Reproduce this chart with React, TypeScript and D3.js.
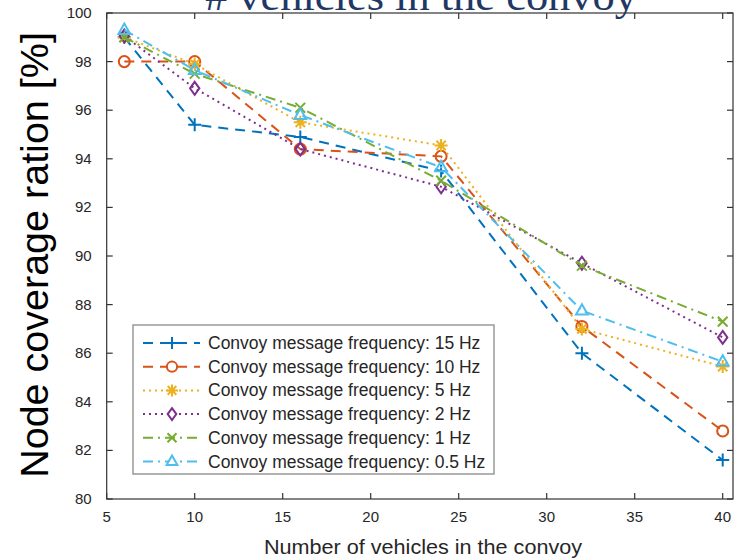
import React from "react";
import * as d3 from "d3";

const vehicles = [6, 10, 16, 24, 32, 40];
const freq15 = [99.0, 95.4, 94.9, 93.5, 86.0, 81.6];
const freq10 = [98.0, 98.0, 94.4, 94.1, 87.1, 82.8];
const freq5 = [99.0, 97.9, 95.5, 94.55, 87.0, 85.45];
const freq2 = [99.05, 96.9, 94.4, 92.85, 89.7, 86.65];
const freq1 = [99.0, 97.5, 96.1, 93.1, 89.6, 87.3];
const freq05 = [99.3, 97.65, 95.8, 93.65, 87.75, 85.65];
const seriesLabels = [
  "Convoy message frequency: 15 Hz",
  "Convoy message frequency: 10 Hz",
  "Convoy message frequency: 5 Hz",
  "Convoy message frequency: 2 Hz",
  "Convoy message frequency: 1 Hz",
  "Convoy message frequency: 0.5 Hz",
];
const xTicks = [5, 10, 15, 20, 25, 30, 35, 40];
const yTicks = [80, 82, 84, 86, 88, 90, 92, 94, 96, 98, 100];
const titleText = "# vehicles in the convoy";
const xLabel = "Number of vehicles in the convoy";
const yLabel = "Node coverage ration [%]";

const seriesValues = [freq15, freq10, freq5, freq2, freq1, freq05];
const colors = ["#0072BD", "#D95319", "#EDB120", "#7E2F8E", "#77AC30", "#4DBEEE"];
const dashes = ["10,7", "10,7", "2,4", "2,4", "10,5,2,5", "10,5,2,5"];
const markers = ["plus", "circle", "star", "diamond", "cross", "triangle"];

function markerPath(kind: string, s: number): string {
  const p = d3.path();
  if (kind === "plus") {
    p.moveTo(-s, 0); p.lineTo(s, 0); p.moveTo(0, -s); p.lineTo(0, s);
  } else if (kind === "circle") {
    p.moveTo(s * 0.85, 0); p.arc(0, 0, s * 0.85, 0, Math.PI * 2);
  } else if (kind === "star") {
    p.moveTo(-s, 0); p.lineTo(s, 0); p.moveTo(0, -s); p.lineTo(0, s);
    const k = s * 0.72;
    p.moveTo(-k, -k); p.lineTo(k, k); p.moveTo(-k, k); p.lineTo(k, -k);
  } else if (kind === "diamond") {
    p.moveTo(0, -s); p.lineTo(s * 0.72, 0); p.lineTo(0, s); p.lineTo(-s * 0.72, 0); p.closePath();
  } else if (kind === "cross") {
    const k = s * 0.75;
    p.moveTo(-k, -k); p.lineTo(k, k); p.moveTo(-k, k); p.lineTo(k, -k);
  } else {
    p.moveTo(0, -s); p.lineTo(s * 0.9, s * 0.6); p.lineTo(-s * 0.9, s * 0.6); p.closePath();
  }
  return p.toString();
}

export default function App() {
  const W = 734, H = 559;
  const left = 106.7, right = 733, top = 13, bottom = 499;
  const x = d3.scaleLinear().domain([5, 40 + (right - 722.7) / 17.6]).range([left, right]);
  const y = d3.scaleLinear().domain([80, 100]).range([bottom, top]);
  const line = d3.line<number>().x((_, i) => x(vehicles[i])).y((v) => y(v));
  const axisColor = "#333";
  const font = "Arial, 'Liberation Sans', sans-serif";

  const legX = 133, legY = 325, legW = 361, legH = 149;
  const rowY = (i: number) => legY + 18 + i * 23.7;

  return (
    <svg width={W} height={H} style={{ position: "absolute", left: 0, top: 0, background: "#fff" }}>
      <rect x={0} y={0} width={W} height={H} fill="#fff" />
      {/* title (cut at top, as in the reference) */}
      <text x={421} y={10} textAnchor="middle" fontFamily="'Liberation Serif', serif" fontSize={42} fill="#1F3864" textLength={432} lengthAdjust="spacingAndGlyphs">{titleText}</text>
      {/* axes box */}
      <rect x={left} y={top} width={right - left} height={bottom - top} fill="none" stroke={axisColor} strokeWidth={1.2} />
      {xTicks.map((t) => (
        <g key={"xt" + t}>
          <line x1={x(t)} x2={x(t)} y1={bottom} y2={bottom - 6} stroke={axisColor} strokeWidth={1.2} />
          <line x1={x(t)} x2={x(t)} y1={top} y2={top + 6} stroke={axisColor} strokeWidth={1.2} />
          <text x={x(t)} y={bottom + 23} textAnchor="middle" fontFamily={font} fontSize={15} fill="#262626">{t}</text>
        </g>
      ))}
      {yTicks.map((t) => (
        <g key={"yt" + t}>
          <line x1={left} x2={left + 6} y1={y(t)} y2={y(t)} stroke={axisColor} strokeWidth={1.2} />
          <line x1={right} x2={right - 6} y1={y(t)} y2={y(t)} stroke={axisColor} strokeWidth={1.2} />
          <text x={left - 15} y={y(t) + 5} textAnchor="end" fontFamily={font} fontSize={15} fill="#262626">{t}</text>
        </g>
      ))}
      <text x={423} y={554} textAnchor="middle" fontFamily={font} fontSize={19.5} fill="#262626" textLength={318} lengthAdjust="spacingAndGlyphs">{xLabel}</text>
      <text transform={`translate(48,255) rotate(-90)`} textAnchor="middle" fontFamily={font} fontSize={39.5} fill="#000">{yLabel}</text>
      {/* series */}
      {seriesValues.map((vals, si) => (
        <g key={"s" + si}>
          <path d={line(vals) || ""} fill="none" stroke={colors[si]} strokeWidth={2} strokeDasharray={dashes[si]} />
          {vals.map((v, i) => (
            <path key={i} transform={`translate(${x(vehicles[i])},${y(v)})`} d={markerPath(markers[si], 6.5)} fill="none" stroke={colors[si]} strokeWidth={2} />
          ))}
        </g>
      ))}
      {/* legend */}
      <rect x={legX} y={legY} width={legW} height={legH} fill="#fff" stroke="#999" strokeWidth={1.5} />
      {seriesLabels.map((lab, i) => (
        <g key={"l" + i}>
          <line x1={143} x2={200} y1={rowY(i)} y2={rowY(i)} stroke={colors[i]} strokeWidth={2} strokeDasharray={dashes[i]} />
          <path transform={`translate(172,${rowY(i)})`} d={markerPath(markers[i], 6)} fill="#fff" stroke={colors[i]} strokeWidth={2} />
          <text x={208} y={rowY(i) + 6} fontFamily={font} fontSize={17.5} fill="#262626">{lab}</text>
        </g>
      ))}
    </svg>
  );
}
